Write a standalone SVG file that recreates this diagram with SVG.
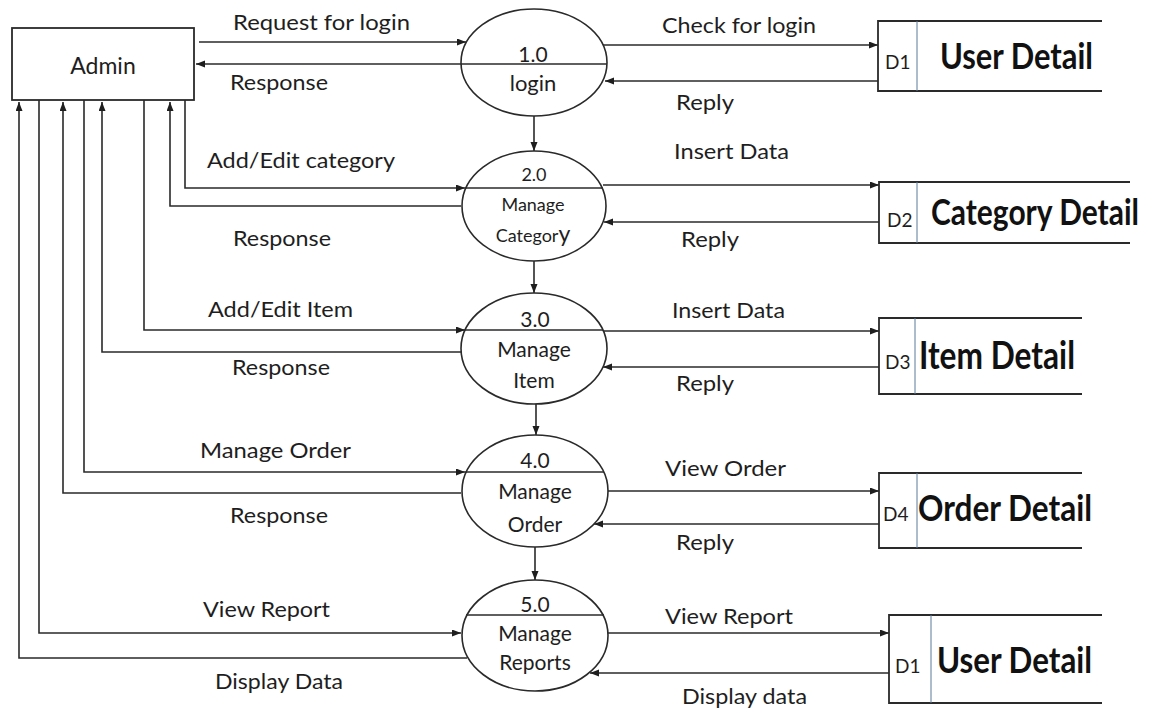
<svg xmlns="http://www.w3.org/2000/svg" width="1156" height="713" viewBox="0 0 1156 713">
  <style>
    .ln { fill: none; stroke: #2a2a2a; stroke-width: 1.6; }
    .box { fill: #ffffff; stroke: #2a2a2a; stroke-width: 1.8; }
    .proc { fill: #ffffff; stroke: #2a2a2a; stroke-width: 1.6; }
    .store { fill: none; stroke: #2a2a2a; stroke-width: 1.8; }
    .sep { fill: none; stroke: #5b7a9c; stroke-width: 1; }
    .lbl { font-family: Lato, "Open Sans", sans-serif; font-size: 21px; fill: #1e1e1e; }
    .ptxt { font-family: Lato, "Open Sans", sans-serif; font-size: 21px; fill: #1e1e1e; text-anchor: middle; }
    .small { font-size: 18px; }
    .sid { font-family: Lato, "Open Sans", sans-serif; font-size: 19px; fill: #1e1e1e; }
    .title { font-family: Lato, "Open Sans", sans-serif; font-weight: bold; font-size: 36px; fill: #111111; }
  </style>
  <defs>
    <marker id="arrow" markerUnits="userSpaceOnUse" markerWidth="10" markerHeight="8" refX="9" refY="3.5" orient="auto">
      <path d="M0,0 L9,3.5 L0,7 z" fill="#1e1e1e"/>
    </marker>
  </defs>

  <rect width="1156" height="713" fill="#ffffff"/>

  <!-- data flows -->
  <g id="connectors" class="ln" marker-end="url(#arrow)">
    <!-- Admin <-> processes -->
    <path d="M199,42 H466"/>
    <path d="M461,64 H196"/>
    <path d="M185,100 V188 H465"/>
    <path d="M461,206 H170 V102"/>
    <path d="M144,100 V330 H465"/>
    <path d="M461,352 H102 V102"/>
    <path d="M84,100 V472 H465"/>
    <path d="M461,493 H63 V102"/>
    <path d="M39,100 V633 H461"/>
    <path d="M467,658 H19 V102"/>
    <!-- processes <-> data stores -->
    <path d="M603,45 H878"/>
    <path d="M878,81 H605"/>
    <path d="M603,185 H879"/>
    <path d="M879,222 H604"/>
    <path d="M603,331 H879"/>
    <path d="M879,367 H603"/>
    <path d="M607,491 H879"/>
    <path d="M879,524 H594"/>
    <path d="M607,633 H889"/>
    <path d="M889,673 H590"/>
    <!-- process sequence -->
    <path d="M534,116 V151"/>
    <path d="M534,261 V293"/>
    <path d="M536,404 V435"/>
    <path d="M535,547 V580"/>
  </g>

  <!-- flow labels -->
  <g id="flow-labels" class="lbl">
    <text x="233" y="30" textLength="177" lengthAdjust="spacingAndGlyphs">Request for login</text>
    <text x="230" y="90" textLength="98" lengthAdjust="spacingAndGlyphs">Response</text>
    <text x="207" y="168" textLength="188" lengthAdjust="spacingAndGlyphs">Add/Edit category</text>
    <text x="233" y="246" textLength="98" lengthAdjust="spacingAndGlyphs">Response</text>
    <text x="208" y="317" textLength="145" lengthAdjust="spacingAndGlyphs">Add/Edit Item</text>
    <text x="232" y="375" textLength="98" lengthAdjust="spacingAndGlyphs">Response</text>
    <text x="200" y="458" textLength="151" lengthAdjust="spacingAndGlyphs">Manage Order</text>
    <text x="230" y="523" textLength="98" lengthAdjust="spacingAndGlyphs">Response</text>
    <text x="203" y="617" textLength="127" lengthAdjust="spacingAndGlyphs">View Report</text>
    <text x="215" y="689" textLength="128" lengthAdjust="spacingAndGlyphs">Display Data</text>

    <text x="662" y="33" textLength="154" lengthAdjust="spacingAndGlyphs">Check for login</text>
    <text x="676" y="110" textLength="58" lengthAdjust="spacingAndGlyphs">Reply</text>
    <text x="674" y="159" textLength="115" lengthAdjust="spacingAndGlyphs">Insert Data</text>
    <text x="681" y="247" textLength="58" lengthAdjust="spacingAndGlyphs">Reply</text>
    <text x="672" y="318" textLength="113" lengthAdjust="spacingAndGlyphs">Insert Data</text>
    <text x="676" y="391" textLength="58" lengthAdjust="spacingAndGlyphs">Reply</text>
    <text x="665" y="476" textLength="121" lengthAdjust="spacingAndGlyphs">View Order</text>
    <text x="676" y="550" textLength="58" lengthAdjust="spacingAndGlyphs">Reply</text>
    <text x="665" y="624" textLength="128" lengthAdjust="spacingAndGlyphs">View Report</text>
    <text x="682" y="704" textLength="125" lengthAdjust="spacingAndGlyphs">Display data</text>
  </g>

  <!-- external entity -->
  <g id="admin">
    <rect class="box" x="12" y="28" width="182" height="72"/>
    <text class="lbl" x="103" y="74" text-anchor="middle" style="font-size:23px">Admin</text>
  </g>

  <!-- processes -->
  <g id="p1-login">
    <ellipse class="proc" cx="534" cy="62.5" rx="73" ry="53.5"/>
    <line class="ln" x1="461" y1="64" x2="607" y2="64"/>
    <text class="ptxt" x="533" y="62">1.0</text>
    <text class="ptxt" x="533" y="91" style="font-size:22px">login</text>
  </g>

  <g id="p2-manage-category">
    <ellipse class="proc" cx="534" cy="206" rx="72" ry="55"/>
    <line class="ln" x1="465" y1="188" x2="603" y2="188"/>
    <text class="ptxt small" x="534" y="181">2.0</text>
    <text class="ptxt small" x="533" y="211">Manage</text>
    <text class="ptxt small" x="533" y="242">Categor<tspan style="font-size:23px">y</tspan></text>
  </g>

  <g id="p3-manage-item">
    <ellipse class="proc" cx="534" cy="348.5" rx="73" ry="55.5"/>
    <line class="ln" x1="465" y1="330" x2="603" y2="330"/>
    <text class="ptxt" x="535" y="327">3.0</text>
    <text class="ptxt" x="534" y="357">Manage</text>
    <text class="ptxt" x="534" y="388">Item</text>
  </g>

  <g id="p4-manage-order">
    <ellipse class="proc" cx="535" cy="491" rx="73" ry="56"/>
    <line class="ln" x1="465" y1="472" x2="604" y2="472"/>
    <text class="ptxt" x="535" y="468">4.0</text>
    <text class="ptxt" x="535" y="499">Manage</text>
    <text class="ptxt" x="535" y="532">Order</text>
  </g>

  <g id="p5-manage-reports">
    <ellipse class="proc" cx="535" cy="635.5" rx="73" ry="55.5"/>
    <line class="ln" x1="466" y1="615" x2="604" y2="615"/>
    <text class="ptxt" x="535" y="612">5.0</text>
    <text class="ptxt" x="535" y="641">Manage</text>
    <text class="ptxt" x="535" y="670">Reports</text>
  </g>

  <!-- data stores -->
  <g id="d1-user-detail">
    <path class="store" d="M1102,21 H878 V91 H1102"/>
    <line class="sep" x1="917" y1="21" x2="917" y2="91"/>
    <text class="sid" x="885" y="69">D1</text>
    <text class="title" x="940" y="69" textLength="153" lengthAdjust="spacingAndGlyphs" style="font-size:37px">User Detail</text>
  </g>

  <g id="d2-category-detail">
    <path class="store" d="M1130,182 H879 V243 H1130"/>
    <line class="sep" x1="917" y1="182" x2="917" y2="243"/>
    <text class="sid" x="887" y="227">D2</text>
    <text class="title" x="931" y="225" textLength="208" lengthAdjust="spacingAndGlyphs">Category Detail</text>
  </g>

  <g id="d3-item-detail">
    <path class="store" d="M1082,318 H879 V394 H1082"/>
    <line class="sep" x1="915" y1="318" x2="915" y2="394"/>
    <text class="sid" x="885" y="369">D3</text>
    <text class="title" x="919" y="369" textLength="156" lengthAdjust="spacingAndGlyphs" style="font-size:39px">Item Detail</text>
  </g>

  <g id="d4-order-detail">
    <path class="store" d="M1082,473 H879 V548 H1082"/>
    <line class="sep" x1="917" y1="473" x2="917" y2="548"/>
    <text class="sid" x="883" y="521">D4</text>
    <text class="title" x="918" y="521" textLength="174" lengthAdjust="spacingAndGlyphs">Order Detail</text>
  </g>

  <g id="d1-user-detail-reports">
    <path class="store" d="M1102,615 H889 V703 H1102"/>
    <line class="sep" x1="931" y1="615" x2="931" y2="703"/>
    <text class="sid" x="895" y="673">D1</text>
    <text class="title" x="937" y="673" textLength="155" lengthAdjust="spacingAndGlyphs">User Detail</text>
  </g>
</svg>
